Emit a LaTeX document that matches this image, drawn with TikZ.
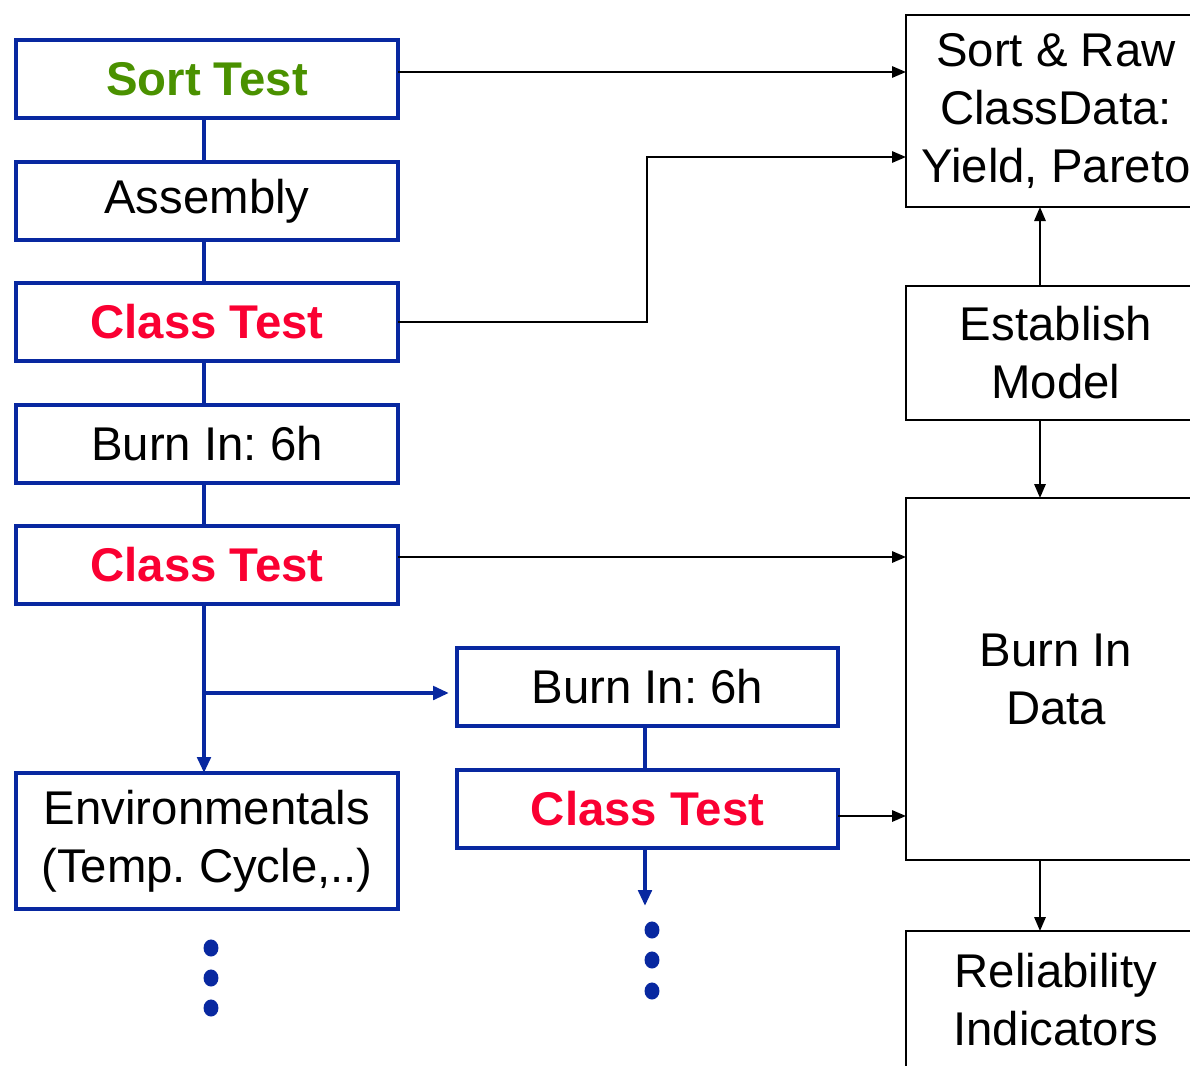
\documentclass[tikz,border=0pt]{standalone}
\usepackage{fontspec}
\setmainfont{Liberation Sans}
\usetikzlibrary{arrows.meta}
\definecolor{flowblue}{RGB}{8,40,160}
\definecolor{sortgreen}{RGB}{74,145,0}
\definecolor{classred}{RGB}{250,0,50}
\frenchspacing
\tikzset{
  txt/.style={font=\fontsize{35.5}{43.5}\selectfont\frenchspacing, align=center},
  lbox/.style={txt, draw=flowblue, line width=3pt, inner sep=0pt, outer sep=0pt, minimum width=286.5pt, minimum height=58.5pt},
  rbox/.style={txt, draw=black, line width=1.5pt, inner sep=0pt, outer sep=0pt, minimum width=225pt},
  bline/.style={draw=flowblue, line width=3pt},
  barrow/.style={bline, -{Triangle[length=12pt,width=10pt]}},
  karrow/.style={draw=black, line width=1.5pt, -{Triangle[length=10.5pt,width=8.5pt]}},
  dotfill/.style={fill=flowblue, draw=none},
}
\begin{document}
\begin{tikzpicture}[x=0.75pt,y=-0.75pt]
\useasboundingbox (0,0) rectangle (1190,1065);
\clip (0,0) rectangle (1190,1065);
% left column
\node[lbox] (sort) at (207,79) {\textbf{\color{sortgreen}Sort Test}};
\node[lbox] (asm) at (207,201) {Assembly};
\node[lbox] (ct1) at (207,322) {\textbf{\color{classred}Class Test}};
\node[lbox] (bi1) at (207,444) {Burn In: 6h};
\node[lbox] (ct2) at (207,565) {\textbf{\color{classred}Class Test}};
\node[lbox, minimum height=102pt] (env) at (207,841) {\raisebox{-3pt}{Environmentals}\\\raisebox{-3pt}{(Temp. Cycle,..)}};
% middle column
\node[lbox, minimum width=285.75pt] (bi2) at (647.5,687) {Burn In: 6h};
\node[lbox, minimum width=285.75pt] (ct3) at (647.5,809) {\textbf{\color{classred}Class Test}};
% right column
\node[rbox, minimum height=144pt] (raw) at (1056,111) {Sort \& Raw\\ClassData:\\Yield, Pareto};
\node[rbox, minimum height=100.5pt] (model) at (1056,353) {Establish\\Model};
\node[rbox, minimum height=271.5pt] (bidata) at (1056,679) {Burn In\\Data};
\node[rbox, minimum height=103.5pt] (rel) at (1056,1000) {Reliability\\Indicators};
% blue connectors
\draw[bline] (sort.south -| 204,0) -- (asm.north -| 204,0);
\draw[bline] (asm.south -| 204,0) -- (ct1.north -| 204,0);
\draw[bline] (ct1.south -| 204,0) -- (bi1.north -| 204,0);
\draw[bline] (bi1.south -| 204,0) -- (ct2.north -| 204,0);
\coordinate (branch) at (204,693);
\draw[barrow] (ct2.south -| 204,0) -- (env.north -| 204,0);
\draw[barrow, shorten >=6pt] (branch) -- (branch -| bi2.west);
\draw[bline] (bi2.south -| 645,0) -- (ct3.north -| 645,0);
\coordinate (more) at (645,906);
\draw[barrow] (ct3.south -| 645,0) -- (more);
% dots
\foreach \y in {948,978,1008} \fill[dotfill] (211,\y) ellipse [x radius=5.6pt, y radius=6.4pt];
\foreach \y in {930,960,991} \fill[dotfill] (652,\y) ellipse [x radius=5.6pt, y radius=6.4pt];
% black arrows
\draw[karrow] (sort.east |- 0,72) -- (raw.west |- 0,72);
\coordinate (bend1) at (647,322);
\coordinate (bend2) at (647,157);
\draw[karrow] (ct1.east) -- (bend1) -- (bend2) -- (raw.west |- bend2);
\draw[karrow] (ct2.east |- 0,557) -- (bidata.west |- 0,557);
\draw[karrow] (ct3.east |- 0,816) -- (bidata.west |- 0,816);
\draw[karrow] (model.north -| 1040,0) -- (raw.south -| 1040,0);
\draw[karrow] (model.south -| 1040,0) -- (bidata.north -| 1040,0);
\draw[karrow] (bidata.south -| 1040,0) -- (rel.north -| 1040,0);
\end{tikzpicture}
\end{document}
